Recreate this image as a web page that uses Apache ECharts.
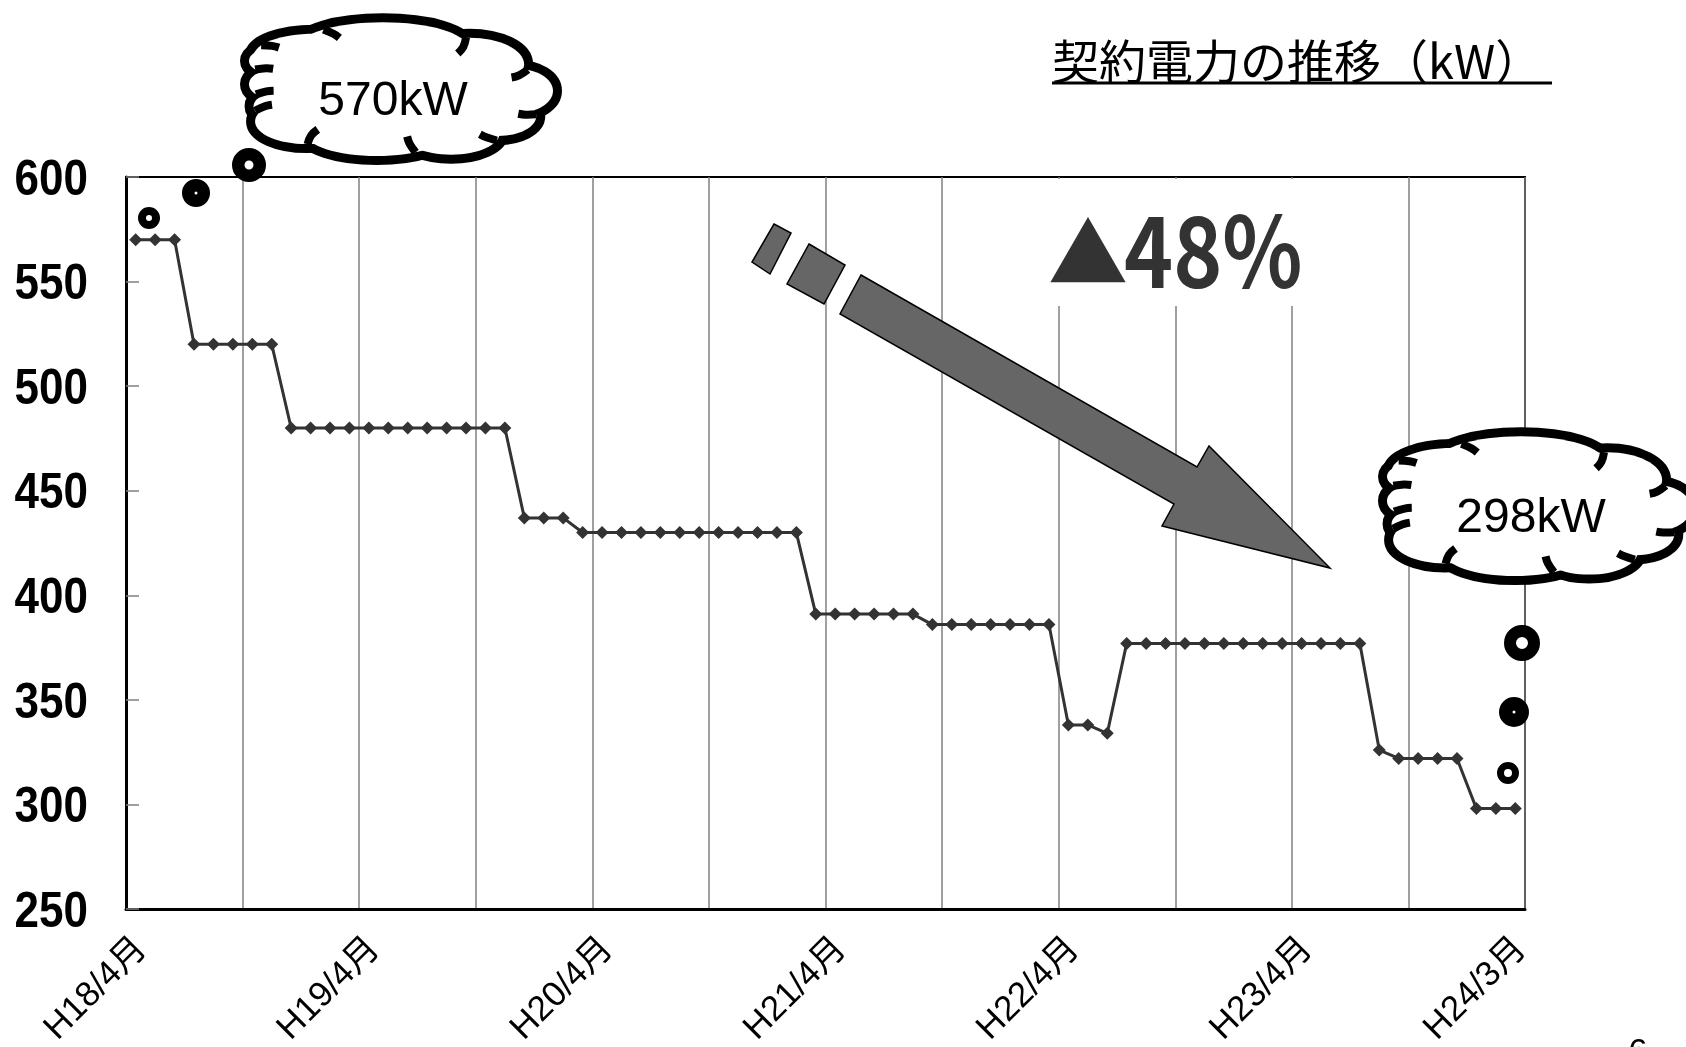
<!DOCTYPE html>
<html>
<head>
<meta charset="utf-8">
<title>契約電力の推移</title>
<script src="https://cdn.jsdelivr.net/npm/echarts@6/dist/echarts.min.js"></script>
<style>
  html, body { margin: 0; padding: 0; background: #fff; }
  #chart { width: 1686px; height: 1047px; }
</style>
</head>
<body>
<div id="chart"></div>
<script>
// Months from H18/4 to H24/3
const categories = [
  'H18/4月','H18/5月','H18/6月','H18/7月','H18/8月','H18/9月','H18/10月','H18/11月','H18/12月','H19/1月','H19/2月','H19/3月',
  'H19/4月','H19/5月','H19/6月','H19/7月','H19/8月','H19/9月','H19/10月','H19/11月','H19/12月','H20/1月','H20/2月','H20/3月',
  'H20/4月','H20/5月','H20/6月','H20/7月','H20/8月','H20/9月','H20/10月','H20/11月','H20/12月','H21/1月','H21/2月','H21/3月',
  'H21/4月','H21/5月','H21/6月','H21/7月','H21/8月','H21/9月','H21/10月','H21/11月','H21/12月','H22/1月','H22/2月','H22/3月',
  'H22/4月','H22/5月','H22/6月','H22/7月','H22/8月','H22/9月','H22/10月','H22/11月','H22/12月','H23/1月','H23/2月','H23/3月',
  'H23/4月','H23/5月','H23/6月','H23/7月','H23/8月','H23/9月','H23/10月','H23/11月','H23/12月','H24/1月','H24/2月','H24/3月'
];

// Contract demand (kW) per fiscal year, April..March
const fy18 = [570, 570, 570, 520, 520, 520, 520, 520, 480, 480, 480, 480];
const fy19 = [480, 480, 480, 480, 480, 480, 480, 480, 437, 437, 437, 430];
const fy20 = [430, 430, 430, 430, 430, 430, 430, 430, 430, 430, 430, 391];
const fy21 = [391, 391, 391, 391, 391, 386, 386, 386, 386, 386, 386, 386];
const fy22 = [338, 338, 334, 377, 377, 377, 377, 377, 377, 377, 377, 377];
const fy23 = [377, 377, 377, 377, 326, 322, 322, 322, 322, 298, 298, 298];

// Labelled months on the horizontal axis
const xTickLabels = ['H18/4月', 'H19/4月', 'H20/4月', 'H21/4月', 'H22/4月', 'H23/4月', 'H24/3月'];
// Vertical axis ticks
const yTicks = [250, 300, 350, 400, 450, 500, 550, 600];

const demand = [].concat(fy18, fy19, fy20, fy21, fy22, fy23);
const firstValue = demand[0];
const lastValue = demand[demand.length - 1];
const reductionPct = Math.round((firstValue - lastValue) / firstValue * 100);

const GRID = { left: 126, right: 161, top: 177, bottom: 138 };

const chart = echarts.init(document.getElementById('chart'), null, { renderer: 'canvas' });

// Thought-cloud callout: bumps are ellipses in units of the half-size
const cloudBumps = [
  [-0.57, -0.50, 0.40, 0.34],
  [-0.12, -0.64, 0.55, 0.37],
  [ 0.45, -0.38, 0.36, 0.40],
  [ 0.77,  0.02, 0.23, 0.33],
  [ 0.64,  0.40, 0.25, 0.30],
  [ 0.33,  0.65, 0.32, 0.33],
  [-0.16,  0.65, 0.47, 0.35],
  [-0.62,  0.48, 0.34, 0.34],
  [-0.82, -0.43, 0.18, 0.20],
  [-0.85, -0.08, 0.15, 0.21],
  [-0.80,  0.25, 0.17, 0.21]
];
const cloudCore = [0, 0, 0.77, 0.64];
const OUTLINE = 9;

function ellipseRadius(x, y, e) {
  const dx = (x - e.cx) / e.rx, dy = (y - e.cy) / e.ry;
  return Math.sqrt(dx * dx + dy * dy);
}

function cloud(cx, cy, hw, hh, label) {
  const els = [];
  const ell = (b) => ({ cx: cx + b[0] * hw, cy: cy + b[1] * hh, rx: b[2] * hw, ry: b[3] * hh });
  const bumps = cloudBumps.map(ell);
  const all = bumps.concat([ell(cloudCore)]);
  all.forEach(e => els.push({
    type: 'ellipse', shape: e, z: 100,
    style: { fill: '#fff', stroke: '#000', lineWidth: OUTLINE * 2 }
  }));
  all.forEach(e => els.push({ type: 'ellipse', shape: e, z: 101, style: { fill: '#fff' } }));

  // at each valley between two bumps, a short stroke turns into the cloud
  bumps.forEach((e, i) => {
    const others = all.filter((_, j) => j !== i);
    const N = 720;
    const pt = (k) => {
      const t = (k / N) * Math.PI * 2;
      return [e.cx + (e.rx + OUTLINE / 2) * Math.cos(t), e.cy + (e.ry + OUTLINE / 2) * Math.sin(t)];
    };
    const hidden = (k) => others.some(o => ellipseRadius(pt(k)[0], pt(k)[1], o) < 1);
    for (let k = 0; k < N; k++) {
      if (hidden(k) || !hidden(k + 1)) continue;
      let vis = 0;
      for (let m = k; m > k - N / 2 && !hidden(m); m--) {
        const a = pt(m), b = pt(m - 1);
        vis += Math.hypot(a[0] - b[0], a[1] - b[1]);
      }
      if (vis < 15) continue;
      const p = pt(k), q = pt(k + 4);
      let tx = q[0] - p[0], ty = q[1] - p[1];
      const tl = Math.hypot(tx, ty); tx /= tl; ty /= tl;
      let ix = cx - p[0], iy = cy - p[1];
      const il = Math.hypot(ix, iy); ix /= il; iy /= il;
      let dx = tx * 0.3 + ix * 0.7, dy = ty * 0.3 + iy * 0.7;
      const dl = Math.hypot(dx, dy); dx /= dl; dy /= dl;
      const L = 18;
      const mid = [p[0] + dx * L * 0.5 + tx * 2, p[1] + dy * L * 0.5 + ty * 2];
      els.push({
        type: 'polyline', z: 102,
        shape: { points: [p, mid, [p[0] + dx * L, p[1] + dy * L]], smooth: 0.4 },
        style: { stroke: '#000', lineWidth: OUTLINE - 1, lineCap: 'butt', fill: null }
      });
    }
  });

  els.push({
    type: 'text', z: 103, x: cx - 8, y: cy + 12,
    style: {
      text: label, fill: '#000', font: '48px "Liberation Sans", Arial, sans-serif',
      align: 'center', verticalAlign: 'middle'
    }
  });
  return els;
}

// Small rings leading to a cloud
function ring(x, y, outer, inner) {
  return {
    type: 'circle', z: 104,
    shape: { cx: x, cy: y, r: (outer + inner) / 2 },
    style: { fill: '#fff', stroke: '#000', lineWidth: outer - inner }
  };
}

const graphics = [
  // title
  {
    type: 'text', x: 1052, y: 61, z: 20,
    style: {
      text: '契約電力の推移（kW）', fill: '#000',
      font: '47px "Noto Sans CJK JP", sans-serif', align: 'left', verticalAlign: 'middle'
    }
  },
  { type: 'line', z: 20, shape: { x1: 1052, y1: 83, x2: 1552, y2: 83 }, style: { stroke: '#000', lineWidth: 3 } },

  // reduction label on a white panel
  { type: 'rect', z: 10, shape: { x: 1032, y: 179, width: 275, height: 127 }, style: { fill: '#fff' } },
  {
    type: 'text', x: 1048, y: 293, z: 20,
    style: { text: '▲', fill: '#333', font: '80px "Noto Sans CJK JP", sans-serif', align: 'left', verticalAlign: 'bottom' }
  },
  {
    type: 'text', x: 1124, y: 251, z: 20, scaleX: 0.85,
    style: {
      text: reductionPct + '%', fill: '#333',
      font: 'bold 98px "Noto Sans CJK JP", sans-serif', align: 'left', verticalAlign: 'middle'
    }
  },

  // trend arrow with two leading dashes
  {
    type: 'polygon', z: 30,
    shape: { points: [[774, 224], [791, 233], [770, 274], [752, 262]] },
    style: { fill: '#666', stroke: '#000', lineWidth: 1.5 }
  },
  {
    type: 'polygon', z: 30,
    shape: { points: [[809, 244], [845, 265], [824, 304], [787, 284]] },
    style: { fill: '#666', stroke: '#000', lineWidth: 1.5 }
  },
  {
    type: 'polygon', z: 30,
    shape: { points: [[861, 275], [1197, 467], [1209, 446], [1330, 568], [1162, 526], [1174, 504], [840, 314]] },
    style: { fill: '#666', stroke: '#000', lineWidth: 1.5 }
  },

  // page number
  {
    type: 'text', x: 1638, y: 1036, z: 20,
    style: { text: '6', fill: '#000', font: '34px "Liberation Sans", Arial, sans-serif', align: 'center', verticalAlign: 'top' }
  },

  ring(149, 218, 11, 3),
  ring(196, 193, 14, 1.5),
  ring(249, 165, 17, 4.5),
  ring(1522, 643, 18, 6),
  ring(1514, 712, 15, 1.5),
  ring(1508, 773, 11, 4)
]
  .concat(cloud(401, 89.5, 152, 66.5, firstValue + 'kW'))
  .concat(cloud(1539, 506.5, 152, 69.5, lastValue + 'kW'));

const option = {
  backgroundColor: '#fff',
  animation: false,
  grid: {
    left: GRID.left, right: GRID.right, top: GRID.top, bottom: GRID.bottom,
    outerBoundsMode: 'none', containLabel: false,
    show: true, borderColor: '#000', borderWidth: 2, backgroundColor: 'transparent'
  },
  xAxis: {
    type: 'category',
    data: categories,
    boundaryGap: true,
    axisLine: { show: true, lineStyle: { color: '#000', width: 3 } },
    axisTick: { show: false },
    splitLine: {
      show: true,
      interval: (i) => i % 6 === 0,
      lineStyle: { color: '#808080', width: 1.5 }
    },
    axisLabel: {
      interval: (i, v) => xTickLabels.indexOf(v) >= 0,
      rotate: 45,
      margin: 40,
      padding: [0, -8, 0, 0],
      color: '#000',
      fontSize: 35,
      fontFamily: '"Liberation Sans", "Noto Sans CJK JP", sans-serif'
    }
  },
  yAxis: {
    type: 'value',
    min: yTicks[0],
    max: yTicks[yTicks.length - 1],
    interval: yTicks[1] - yTicks[0],
    axisLine: { show: true, lineStyle: { color: '#000', width: 3 } },
    axisTick: { show: true, inside: true, length: 13, lineStyle: { color: '#808080', width: 1.5 } },
    splitLine: { show: false },
    // numbers are set as narrowed text below
    axisLabel: { show: false }
  },
  series: [{
    type: 'line',
    data: demand,
    symbol: 'diamond',
    symbolSize: 13,
    showSymbol: true,
    showAllSymbol: true,
    itemStyle: { color: '#333' },
    lineStyle: { color: '#333', width: 3 },
    z: 5
  }],
  graphic: { elements: graphics }
};

chart.setOption(option);

// Vertical axis numbers, placed through the axis scale and set in a narrowed bold face
const yLabelTexts = yTicks.map(v => ({
  type: 'text', z: 20, scaleX: 0.88,
  x: GRID.left - 38,
  y: chart.convertToPixel({ yAxisIndex: 0 }, v) + 4,
  style: {
    text: String(v), fill: '#000',
    font: 'bold 50px "Liberation Sans", Arial, sans-serif',
    align: 'right', verticalAlign: 'middle'
  }
}));
chart.setOption({ graphic: { elements: graphics.concat(yLabelTexts) } });
</script>
</body>
</html>
